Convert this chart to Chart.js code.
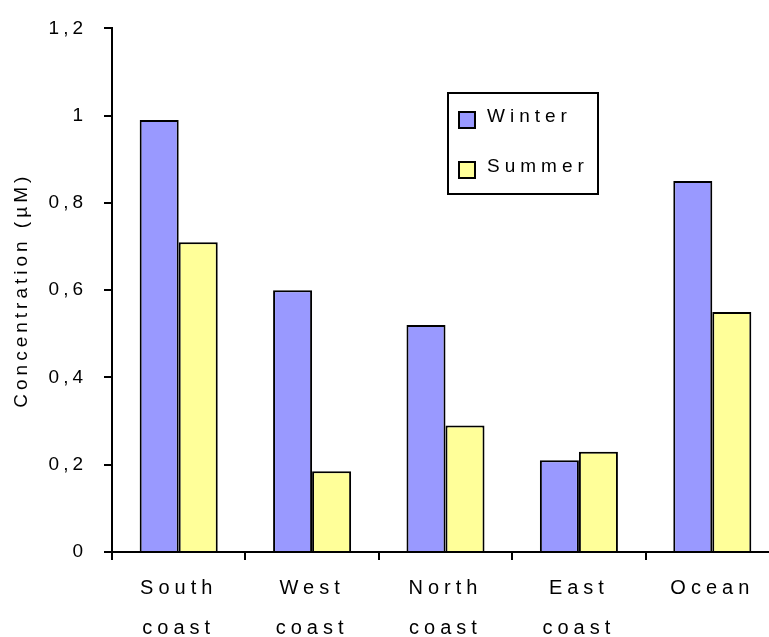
<!DOCTYPE html>
<html>
<head>
<meta charset="utf-8">
<script src="https://cdn.jsdelivr.net/npm/chart.js@4.4.0/dist/chart.umd.min.js"></script>
<style>
    html, body { margin: 0; padding: 0; background: #fff; overflow: hidden; }
    #grafico { display: block; }
</style>
</head>
<body>
<canvas id="grafico" width="790" height="637"></canvas>
<script>
const categorias = [['South', 'coast'], ['West', 'coast'], ['North', 'coast'], ['East', 'coast'], 'Ocean'];
const invierno = [0.99, 0.60, 0.52, 0.21, 0.85];
const verano = [0.71, 0.185, 0.29, 0.23, 0.55];
const etiquetasSeries = ['Winter', 'Summer'];
const tituloY = 'Concentration (µM)';

const colorInvierno = '#9999ff';
const colorVerano = '#ffff99';
const fuente = "'Liberation Sans', Arial, sans-serif";

// espaciado entre letras como en la figura original
// (eje y y titulo antes de las barras, etiquetas x despues: z = 1)
const espaciado = {
    id: 'espaciado',
    beforeDraw(chart) { chart.ctx.letterSpacing = '4px'; },
    afterDatasetsDraw(chart) { chart.ctx.letterSpacing = '5px'; },
    afterDraw(chart) {
        const ctx = chart.ctx;
        ctx.save();
        // leyenda con marco
        ctx.strokeStyle = '#000';
        ctx.lineWidth = 2;
        ctx.strokeRect(448, 93, 150, 101);
        chart.data.datasets.forEach((ds, i) => {
            const y = 112 + i * 50;
            ctx.fillStyle = ds.backgroundColor;
            ctx.fillRect(459, y, 16, 16);
            ctx.strokeRect(459, y, 16, 16);
            ctx.fillStyle = '#000';
            ctx.font = '19px ' + fuente;
            ctx.letterSpacing = '5px';
            ctx.textBaseline = 'middle';
            ctx.textAlign = 'left';
            ctx.fillText(ds.label, 487, y + 5);
        });
        ctx.restore();
        ctx.letterSpacing = '0px';
    }
};

new Chart(document.getElementById('grafico'), {
    type: 'bar',
    data: {
        labels: categorias,
        datasets: [
            { label: etiquetasSeries[0], data: invierno, backgroundColor: colorInvierno },
            { label: etiquetasSeries[1], data: verano, backgroundColor: colorVerano }
        ]
    },
    options: {
        responsive: false,
        animation: false,
        devicePixelRatio: 1,
        layout: { padding: { top: 25, right: 11, left: 0, bottom: 0 } },
        datasets: {
            bar: {
                borderColor: '#000',
                borderWidth: 2,
                categoryPercentage: 0.585,
                barPercentage: 1
            }
        },
        plugins: {
            legend: { display: false },
            tooltip: { enabled: false }
        },
        scales: {
            x: {
                afterFit: (s) => { s.height = 85; },
                grid: { drawOnChartArea: false, tickLength: 8, color: '#000', lineWidth: 2 },
                border: { color: '#000', width: 2 },
                ticks: {
                    z: 1,
                    color: '#000',
                    padding: 8,
                    maxRotation: 0,
                    font: { family: fuente, size: 20, lineHeight: '40px' }
                }
            },
            y: {
                min: 0,
                max: 1.2,
                afterFit: (s) => { s.width = 112; },
                grid: { drawOnChartArea: false, tickLength: 8, color: '#000', lineWidth: 2 },
                border: { color: '#000', width: 2 },
                ticks: {
                    stepSize: 0.2,
                    color: '#000',
                    padding: 17,
                    font: { family: fuente, size: 19 },
                    callback: (v) => String(Math.round(v * 10) / 10).replace('.', ',')
                },
                title: {
                    display: true,
                    text: tituloY,
                    color: '#000',
                    padding: { top: 10, bottom: 0 },
                    font: { family: fuente, size: 19 }
                }
            }
        }
    },
    plugins: [espaciado]
});
</script>
</body>
</html>
